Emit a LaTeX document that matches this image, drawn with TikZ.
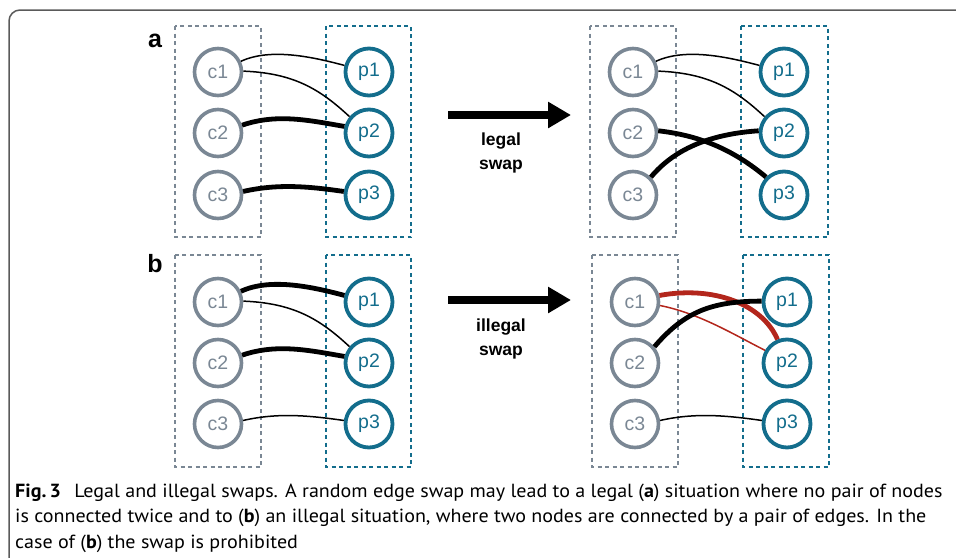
\documentclass[tikz,border=0pt]{standalone}
\usepackage{fontspec}
\setmainfont{Liberation Sans}
\newfontfamily\capfont[FakeStretch=1.055]{PT Sans}
\usetikzlibrary{arrows.meta}
\definecolor{cgray}{HTML}{7A8794}
\definecolor{pteal}{HTML}{136D8C}
\definecolor{swapred}{HTML}{B3261C}
\definecolor{framegray}{HTML}{5A5A5A}
\tikzset{
  cnode/.style={circle,draw=cgray,line width=3.6pt,minimum size=47pt,inner sep=0pt,
    text=cgray,font=\fontsize{19.5}{19.5}\selectfont},
  pnode/.style={circle,draw=pteal,line width=3.8pt,minimum size=47pt,inner sep=0pt,
    text=pteal,font=\fontsize{19.5}{19.5}\selectfont},
  cbox/.style={draw=cgray,line width=1.9pt,dash pattern=on 4pt off 3.5pt},
  pbox/.style={draw=pteal,line width=2pt,dash pattern=on 4pt off 3.5pt},
  thinedge/.style={line width=1.5pt},
  thickedge/.style={line width=4.8pt},
  swaparrow/.style={line width=8pt,-{Triangle[length=23pt,width=25pt]}},
  swaplabel/.style={align=center,font=\bfseries\fontsize{17.5}{24}\selectfont},
  panel/.style={font=\bfseries\fontsize{25}{25}\selectfont}
}
\begin{document}
\begin{tikzpicture}[x=1pt,y=-1pt]
\useasboundingbox (0,0) rectangle (956,557);
% outer frame, running off the right and bottom edges
\draw[framegray,line width=1.5pt,rounded corners=11pt] (9,585) -- (9,10) -- (985,10);

% ---------- panel a, before ----------
\node[panel] (la) at (155,41) {a};
\draw[cbox] (175,26) rectangle (261,237);
\draw[pbox] (326,26) rectangle (411,237);
\node[cnode] (ac1) at (218,72) {c1};
\node[cnode] (ac2) at (218,133) {c2};
\node[cnode] (ac3) at (218,195) {c3};
\node[pnode] (ap1) at (369,72) {p1};
\node[pnode] (ap2) at (369,133) {p2};
\node[pnode] (ap3) at (369,195) {p3};
\draw[thinedge] (ac1.25) .. controls +(30,-14) and +(-30,-8) .. (ap1.165);
\draw[thinedge] (ac1.2) .. controls +(50,2) and +(-30,-28) .. (ap2.140);
\draw[thickedge] (ac2.18) .. controls +(35,-12) and +(-35,-6) .. (ap2.165);
\draw[thickedge] (ac3.8) .. controls +(35,-8) and +(-35,-5) .. (ap3.172);

% ---------- arrow a ----------
\coordinate (aa1) at (448,115);
\coordinate (aa2) at (571,115);
\draw[swaparrow] (aa1) -- (aa2);
\node[swaplabel] (al) at (501,153) {legal\\swap};

% ---------- panel a, after ----------
\draw[cbox] (590,26) rectangle (676,237);
\draw[pbox] (741,26) rectangle (828,237);
\node[cnode] (bc1) at (633,72) {c1};
\node[cnode] (bc2) at (633,133) {c2};
\node[cnode] (bc3) at (633,195) {c3};
\node[pnode] (bp1) at (784,72) {p1};
\node[pnode] (bp2) at (784,133) {p2};
\node[pnode] (bp3) at (784,195) {p3};
\draw[thinedge] (bc1.25) .. controls +(30,-14) and +(-30,-8) .. (bp1.165);
\draw[thinedge] (bc1.2) .. controls +(50,2) and +(-30,-28) .. (bp2.140);
\draw[thickedge] (bc2.5) .. controls +(45,5) and +(-30,-25) .. (bp3.135);
\draw[thickedge] (bc3.45) .. controls +(25,-30) and +(-45,3) .. (bp2.175);

% ---------- panel b, before ----------
\node[panel] (lb) at (155,264) {b};
\draw[cbox] (175,255) rectangle (261,467);
\draw[pbox] (326,255) rectangle (411,467);
\node[cnode] (cc1) at (218,302) {c1};
\node[cnode] (cc2) at (218,363) {c2};
\node[cnode] (cc3) at (218,424) {c3};
\node[pnode] (cp1) at (369,302) {p1};
\node[pnode] (cp2) at (369,363) {p2};
\node[pnode] (cp3) at (369,424) {p3};
\draw[thickedge] (cc1.25) .. controls +(30,-14) and +(-30,-8) .. (cp1.165);
\draw[thinedge] (cc1.2) .. controls +(50,2) and +(-30,-28) .. (cp2.140);
\draw[thickedge] (cc2.18) .. controls +(35,-12) and +(-35,-6) .. (cp2.165);
\draw[thinedge] (cc3.8) .. controls +(35,-8) and +(-35,-5) .. (cp3.172);

% ---------- arrow b ----------
\coordinate (ba1) at (448,300);
\coordinate (ba2) at (571,300);
\draw[swaparrow] (ba1) -- (ba2);
\node[swaplabel] (bl) at (501,339) {illegal\\swap};

% ---------- panel b, after ----------
\draw[cbox] (592,255) rectangle (678,467);
\draw[pbox] (743,255) rectangle (829,467);
\node[cnode] (dc1) at (635,302) {c1};
\node[cnode] (dc2) at (635,363) {c2};
\node[cnode] (dc3) at (635,424) {c3};
\node[pnode] (dp1) at (787,302) {p1};
\node[pnode] (dp2) at (787,363) {p2};
\node[pnode] (dp3) at (787,424) {p3};
\draw[swapred,thickedge] (dc1.15) .. controls +(55,-10) and +(-15,-35) .. (dp2.112);
\draw[swapred,thinedge] (dc1.-8) .. controls +(40,8) and +(-30,-15) .. (dp2.150);
\draw[thickedge] (dc2.40) .. controls +(30,-35) and +(-50,0) .. (dp1.178);
\draw[thinedge] (dc3.8) .. controls +(35,-8) and +(-35,-5) .. (dp3.172);

% ---------- caption (base anchor sits on the last line) ----------
\node[anchor=base west,inner sep=0pt,font=\capfont\fontsize{19}{25.5}\selectfont,align=left] (cap) at (15,548)
{{\bfseries Fig.\,3}\hspace{0.7em}Legal and illegal swaps. A random edge swap may lead to a legal ({\bfseries a}) situation where no pair of nodes\\
is connected twice and to ({\bfseries b}) an illegal situation, where two nodes are connected by a pair of edges. In the\\
case of ({\bfseries b}) the swap is prohibited};
\end{tikzpicture}
\end{document}
